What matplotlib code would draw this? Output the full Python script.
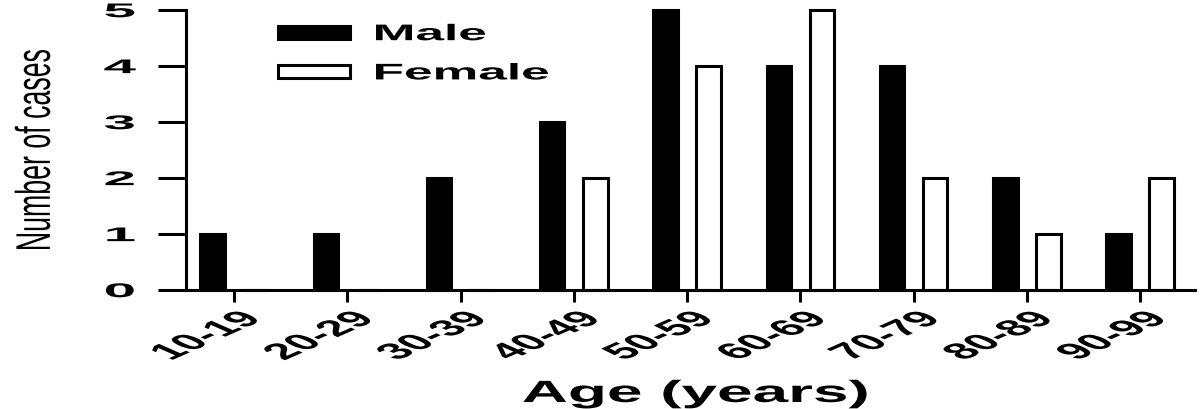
import matplotlib
matplotlib.use('Agg')
import matplotlib.pyplot as plt
import matplotlib.patches as mpatches
from matplotlib.container import BarContainer
from matplotlib.legend_handler import HandlerPatch, update_from_first_child
from matplotlib.patheffects import AbstractPathEffect
from matplotlib.transforms import Affine2D, ScaledTranslation
import numpy as np

AGE_GROUPS = ['10-19', '20-29', '30-39', '40-49', '50-59', '60-69', '70-79', '80-89', '90-99']
MALE = [1, 1, 2, 3, 5, 4, 4, 2, 1]
FEMALE = [0, 0, 0, 2, 4, 5, 2, 1, 2]
Y_TICKS = [0, 1, 2, 3, 4, 5]

FONT = 'Liberation Sans'
LW = 2.2


class Squash(AbstractPathEffect):
    # flattens a text vertically around its anchor point (the source image is squeezed)
    def __init__(self, text, sy):
        super().__init__()
        self.text = text
        self.sy = sy

    def draw_path(self, renderer, gc, tpath, affine, rgbFace=None):
        x0, y0 = self.text.get_transform().transform(self.text.get_unitless_position())
        squash = Affine2D().translate(-x0, -y0).scale(1, self.sy).translate(x0, y0)
        renderer.draw_path(gc, tpath, affine + squash, rgbFace)


def squash(text, sy):
    text.set_path_effects([Squash(text, sy)])


def key_patch(legend, orig_handle, xdescent, ydescent, width, height, fontsize):
    return mpatches.Rectangle((-xdescent, 0.03 * fontsize), width, 0.25 * fontsize)


fig = plt.figure(figsize=(12, 4.09), dpi=100)
ax = fig.add_axes([0.155, 0.291, 0.841, 0.6845])

x = np.arange(len(AGE_GROUPS))
bar_w = 0.215
bm = ax.bar(x - 0.19, MALE, bar_w, color='black', edgecolor='black', linewidth=LW,
            clip_on=False, label='Male')
bf = ax.bar(x + 0.19, FEMALE, bar_w, color='white', edgecolor='black', linewidth=LW,
            clip_on=False, label='Female')

ax.set_xlim(-0.424, 8.486)
ax.set_ylim(0, 5)

for side in ['top', 'right']:
    ax.spines[side].set_visible(False)
for side in ['left', 'bottom']:
    ax.spines[side].set_linewidth(LW)

ax.set_yticks(Y_TICKS)
ax.set_yticklabels([str(v) for v in Y_TICKS], fontfamily=FONT, fontweight='bold', fontsize=42)
ax.tick_params(axis='y', direction='out', length=20, width=LW, pad=16)
for t in ax.get_yticklabels():
    squash(t, 0.34)

ax.set_xticks(x)
ax.set_xticklabels(AGE_GROUPS, fontfamily=FONT, fontweight='bold', fontsize=37,
                   rotation=45, ha='right', va='top')
ax.tick_params(axis='x', direction='out', length=8.6, width=LW, pad=4.5)
shift = ScaledTranslation(0.37, 0, fig.dpi_scale_trans)
for t in ax.get_xticklabels():
    t.set_transform(t.get_transform() + shift)
    squash(t, 0.44)

ax.set_ylabel('Number of cases', fontfamily=FONT, fontsize=35)
ax.yaxis.set_label_coords(-0.125, 0.5)
squash(ax.yaxis.label, 0.55)

ax.set_xlabel('Age (years)', fontfamily=FONT, fontweight='bold', fontsize=46, va='baseline')
ax.xaxis.set_label_coords(0.505, -0.4)
squash(ax.xaxis.label, 0.48)

leg = ax.legend(handles=[bm, bf], loc='upper left', bbox_to_anchor=(0.0912, 1.028),
                frameon=False, borderpad=0, borderaxespad=0,
                prop={'family': FONT, 'weight': 'bold', 'size': 37},
                handlelength=1.4, handletextpad=0.44, labelspacing=-0.19,
                handler_map={BarContainer: HandlerPatch(patch_func=key_patch,
                                                        update_func=update_from_first_child)})
for t in leg.get_texts():
    squash(t, 0.44)

fig.savefig('out.png', dpi=100)
